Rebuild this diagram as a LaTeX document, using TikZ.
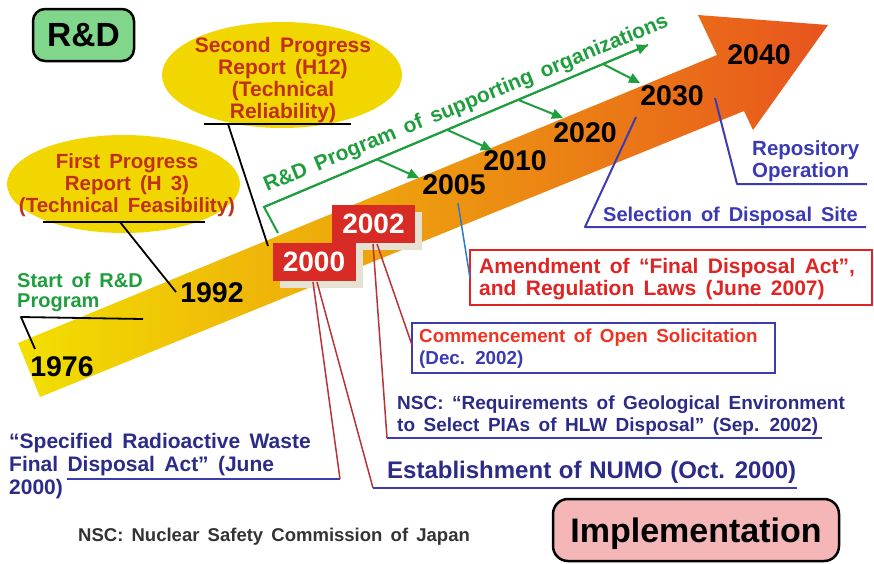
\documentclass[tikz,border=0pt]{standalone}
\usepackage{fontspec}
\setmainfont{Liberation Sans}[WordSpace=1.6]
\usetikzlibrary{shapes.geometric,arrows.meta}
\definecolor{bandY}{HTML}{F2E000}
\definecolor{bandO}{HTML}{F2A81C}
\definecolor{bandR}{HTML}{E8541E}
\definecolor{rdgreen}{HTML}{80D68A}
\definecolor{implpink}{HTML}{F4B6B6}
\definecolor{ellyel}{HTML}{F2D600}
\definecolor{elltxt}{HTML}{C0301E}
\definecolor{grn}{HTML}{1E9E3C}
\definecolor{boxred}{HTML}{D92B25}
\definecolor{shadowc}{HTML}{E5E1D3}
\definecolor{navy}{HTML}{2C2C88}
\definecolor{lineblue}{HTML}{3C3CB0}
\definecolor{brightblue}{HTML}{3A3AB4}
\definecolor{redline}{HTML}{B8343A}
\definecolor{amendred}{HTML}{E02424}
\definecolor{comred}{HTML}{F03222}
\definecolor{skyline}{HTML}{2A7AD0}
\definecolor{foot}{HTML}{333333}
\begin{document}
\begin{tikzpicture}[x=1pt,y=-1pt,
  every node/.style={inner sep=0pt},
  yr/.style={font={\fontsize{28.5}{30}\selectfont\bfseries}},
  txt/.style={align=left,anchor=north west},
  blk/.style={draw=black,line width=1.8pt},
  grline/.style={draw=grn,line width=2pt},
  grarrow/.style={draw=grn,line width=2pt,-{Triangle[length=11pt,width=10pt]}},
  redc/.style={draw=redline,line width=1.5pt},
  ul/.style={draw=lineblue,line width=2pt},
  yrbox/.style={fill=boxred,text=white,minimum width=83pt,minimum height=38pt,font={\fontsize{28}{30}\selectfont\bfseries}},
  shbox/.style={fill=shadowc,minimum width=83pt,minimum height=38pt},
  ell/.style={ellipse,fill=ellyel},
  elltext/.style={align=center,text=elltxt,font={\fontsize{21}{21.8}\selectfont\bfseries}}
]
\useasboundingbox (0,0) rectangle (874,563);
\fill[white] (0,0) rectangle (874,563);

% big arrow
\shade[left color=bandY,middle color=bandO,right color=bandR]
  (18,343) -- (717,55) -- (698,15) -- (828,25) -- (753,130) -- (744,111) -- (40,397) -- cycle;

% R&D and Implementation boxes
\node[draw=black,line width=2.5pt,fill=rdgreen,rounded corners=12pt,minimum width=101pt,minimum height=52pt,
  font={\fontsize{33.5}{35}\selectfont\bfseries},text depth=0pt] (rd) at (83.5,35) {R\&D};
\node[draw=black,line width=2.5pt,fill=implpink,rounded corners=15pt,minimum width=286pt,minimum height=62pt,
  font={\fontsize{34}{36}\selectfont\bfseries},text depth=0pt] (impl) at (696,530) {Implementation};

% ellipses
\node[ell,minimum width=240pt,minimum height=106pt] (ell2) at (282,75) {};
\node[elltext] (ell2t) at (283,80) {Second Progress\\Report (H12)\\(Technical\\Reliability)};
\node[ell,minimum width=233pt,minimum height=98pt] (ell1) at (123.5,184) {};
\node[elltext,font={\fontsize{20.5}{22}\selectfont\bfseries}] (ell1t) at (127,185.5) {First Progress\\Report (H 3)\\(Technical Feasibility)};

% year boxes
\node[shbox] (sh2002) at (380,231) {};
\node[yrbox] (b2002) at (373.5,224) {2002};
\node[shbox] (sh2000) at (321,269) {};
\node[yrbox] (b2000) at (314,262) {2000};

% years
\node[yr] (y1976) at (62,367) {1976};
\node[yr] (y1992) at (212,293) {1992};
\node[yr] (y2005) at (454,185) {2005};
\node[yr] (y2010) at (515,161) {2010};
\node[yr] (y2020) at (585,133) {2020};
\node[yr] (y2030) at (672,96) {2030};
\node[yr] (y2040) at (759,55) {2040};

% black connectors
\coordinate (u2a) at (204,124); \coordinate (u2b) at (351,124); \coordinate (u2c) at (228,124); \coordinate (c2000) at (268,246);
\draw[blk] (u2a) -- (u2b);
\draw[blk] (u2c) -- (c2000);
\coordinate (u1a) at (43,222); \coordinate (u1b) at (205,222); \coordinate (u1c) at (120,222); \coordinate (c1992) at (176,292);
\draw[blk] (u1a) -- (u1b);
\draw[blk] (u1c) -- (c1992);
\coordinate (s0) at (143,319); \coordinate (s1) at (21,317); \coordinate (c1976) at (35,349);
\draw[blk,line join=round] (s0) -- (s1) -- (c1976);

% Start of R&D
\node[txt,text=grn,font={\fontsize{20}{20.5}\selectfont\bfseries}] (start) at (17,272.6) {Start of R\&D\\Program};

% green program
\coordinate (g0) at (278,233); \coordinate (g1) at (264,207); \coordinate (g2) at (648,45);
\draw[grline,line join=miter] (g0) -- (g1) -- (g2);
\draw[grarrow] (g1) -- (g2);
\node[rotate=22.4,anchor=base west,text=grn,font={\fontsize{21}{22}\selectfont\bfseries}] (rdprog) at (267,192)
  {R\&D Program of supporting organizations};
\coordinate (ga) at (377,159.3); \coordinate (gb) at (447,129.8); \coordinate (gc) at (518,99.8); \coordinate (gd) at (603,64);
\coordinate (ta) at (419,178); \coordinate (tb) at (492,150); \coordinate (tc) at (563,118); \coordinate (td) at (640,83);
\draw[grarrow] (ga) -- (ta);
\draw[grarrow] (gb) -- (tb);
\draw[grarrow] (gc) -- (tc);
\draw[grarrow] (gd) -- (td);

% Repository Operation
\coordinate (ro0) at (715,98); \coordinate (ro1) at (737,184); \coordinate (ro2) at (867,184);
\draw[ul,line join=round] (ro0) -- (ro1) -- (ro2);
\node[txt,text=brightblue,font={\fontsize{20.5}{22}\selectfont\bfseries}] (repo) at (752,140.2) {Repository\\Operation};

% Selection of Disposal Site
\coordinate (se0) at (636,117); \coordinate (se1) at (585,227); \coordinate (se2) at (866,227);
\draw[ul,line join=round] (se0) -- (se1) -- (se2);
\node[anchor=base west,text=brightblue,font={\fontsize{20}{22}\selectfont\bfseries}] (sel) at (603,221) {Selection of Disposal Site};

% Amendment
\node[draw=amendred,line width=1.5pt,minimum width=402pt,minimum height=55pt] (amend) at (671,277.5) {};
\node[txt,text=amendred,font={\fontsize{21}{22}\selectfont\bfseries}] (amendt) at (479,257.9)
  {Amendment of “Final Disposal Act”,\\and Regulation Laws (June 2007)};
\coordinate (am0) at (458,203); \coordinate (am1) at (470,278);
\draw[draw=skyline,line width=1.5pt] (am0) -- (am1);

% Commencement
\node[draw=lineblue,line width=1.5pt,minimum width=363pt,minimum height=50pt] (comm) at (593.5,348) {};
\node[txt,text=brightblue,font={\fontsize{18.8}{22.5}\selectfont\bfseries}] (commt) at (419,328.3)
  {\textcolor{comred}{Commencement of Open Solicitation}\\(Dec. 2002)};

% NSC requirements
\node[txt,text=navy,font={\fontsize{19}{22}\selectfont\bfseries}] (nsc) at (397,395.3)
  {NSC: “Requirements of Geological Environment\\to Select PIAs of HLW Disposal” (Sep. 2002)};
\coordinate (n0) at (387,438); \coordinate (n1) at (822,438);
\draw[ul] (n0) -- (n1);

% Establishment of NUMO
\node[anchor=base west,text=navy,font={\fontsize{24}{26}\selectfont\bfseries\fontdimen2\font=0.32em}] (numo) at (387,478) {Establishment of NUMO (Oct. 2000)};
\coordinate (e0) at (373,488); \coordinate (e1) at (797,488);
\draw[ul] (e0) -- (e1);

% Specified Act
\node[txt,text=navy,font={\fontsize{21}{23}\selectfont\bfseries}] (spec) at (9,432.9)
  {“Specified Radioactive Waste\\Final Disposal Act” (June\\2000)};
\coordinate (sp0) at (67,479); \coordinate (sp1) at (340,479);
\draw[ul] (sp0) -- (sp1);

% red connectors
\coordinate (r0a) at (313,282); \coordinate (r0b) at (317,282);
\coordinate (r2a) at (373,244); \coordinate (r2b) at (377,244);
\coordinate (cm0) at (412,345);
\draw[redc] (r0a) -- (sp1);
\draw[redc] (r0b) -- (e0);
\draw[redc] (r2a) -- (n0);
\draw[redc] (r2b) -- (cm0);

% footnote
\node[anchor=base west,text=foot,font={\fontsize{18.5}{20}\selectfont\bfseries}] (footn) at (78,541) {NSC: Nuclear Safety Commission of Japan};
\end{tikzpicture}
\end{document}
